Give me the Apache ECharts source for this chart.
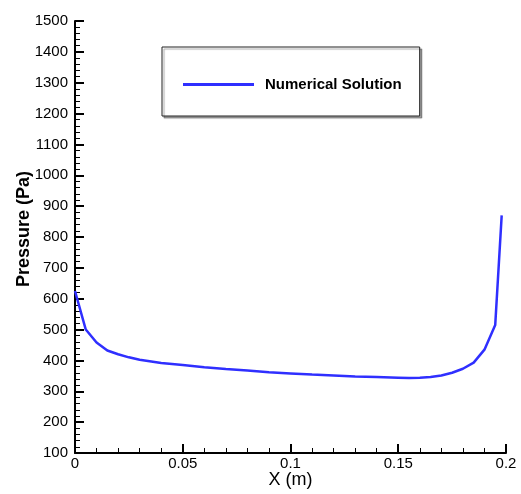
<!DOCTYPE html>
<html><head><meta charset="utf-8">
<script src="https://cdn.jsdelivr.net/npm/echarts@6/dist/echarts.min.js"></script>
<style>html,body{margin:0;padding:0;background:#fff}#c{width:521px;height:494px}</style>
</head><body><div id="c"></div>
<script>
const xValues = [0, 0.005, 0.01, 0.015, 0.02, 0.025, 0.03, 0.04, 0.05, 0.06, 0.07, 0.08, 0.09, 0.1, 0.11, 0.12, 0.13, 0.14, 0.15, 0.155, 0.16, 0.165, 0.17, 0.175, 0.18, 0.185, 0.19, 0.195, 0.198];
const pressure = [625, 500, 458, 432, 420, 410, 402, 392, 385, 378, 372, 367, 362, 358, 354, 351, 348, 346, 344, 343, 344, 346, 351, 360, 373, 393, 435, 515, 870];
const seriesName = 'Numerical Solution';
const xTitle = 'X (m)';
const yTitle = 'Pressure (Pa)';

const chart = echarts.init(document.getElementById('c'), null, {renderer: 'canvas'});
const font = '"Liberation Sans", Arial, sans-serif';
chart.setOption({
  backgroundColor: '#fff',
  animation: false,
  grid: {left: 75, right: 15, top: 21, bottom: 41, outerBoundsMode: 'none', containLabel: false},
  legend: {
    left: 162, top: 47,
    data: [{name: seriesName, icon: 'rect'}],
    itemWidth: 71, itemHeight: 3,
    padding: [30, 18, 24, 21],
    borderColor: '#222', borderWidth: 1,
    shadowColor: 'rgba(0,0,0,0.35)', shadowOffsetX: 2, shadowOffsetY: 2, shadowBlur: 1,
    backgroundColor: '#fff',
    textStyle: {fontFamily: font, fontWeight: 'bold', fontSize: 15, color: '#000', padding: [0,0,0,6]}
  },
  xAxis: {
    type: 'value', min: 0, max: 0.2, interval: 0.05,
    name: xTitle, nameLocation: 'middle', nameGap: 18, nameMoveOverlap: false,
    nameTextStyle: {fontFamily: font, fontSize: 18, color: '#000', verticalAlign: 'top'},
    axisLine: {lineStyle: {color: '#000', width: 2}},
    axisTick: {inside: true, length: 9, lineStyle: {color: '#000', width: 2}},
    minorTick: {show: true, splitNumber: 5, length: 5, lineStyle: {color: '#000', width: 1}},
    splitLine: {show: false},
    axisLabel: {fontFamily: font, fontSize: 15, color: '#000', margin: 3,
      formatter: v => String(+v.toFixed(2))}
  },
  yAxis: {
    type: 'value', min: 100, max: 1500, interval: 100,
    name: yTitle, nameLocation: 'middle', nameGap: 42, nameRotate: 90, nameMoveOverlap: false,
    nameTextStyle: {fontFamily: font, fontWeight: 'bold', fontSize: 18, color: '#000', padding: [0, 0, 0, 16]},
    axisLine: {show: true, lineStyle: {color: '#000', width: 2}},
    axisTick: {show: true, inside: true, length: 9, lineStyle: {color: '#000', width: 2}},
    minorTick: {show: true, splitNumber: 5, length: 5, lineStyle: {color: '#000', width: 1}},
    splitLine: {show: false},
    axisLabel: {fontFamily: font, fontSize: 15, color: '#000', margin: 7,
      formatter: v => String(v)}
  },
  series: [{
    name: seriesName, type: 'line', symbol: 'none', smooth: false,
    data: xValues.map((x, i) => [x, pressure[i]]),
    lineStyle: {color: '#2f2fff', width: 2.5},
    itemStyle: {color: '#2f2fff'}
  }]
});
</script></body></html>
